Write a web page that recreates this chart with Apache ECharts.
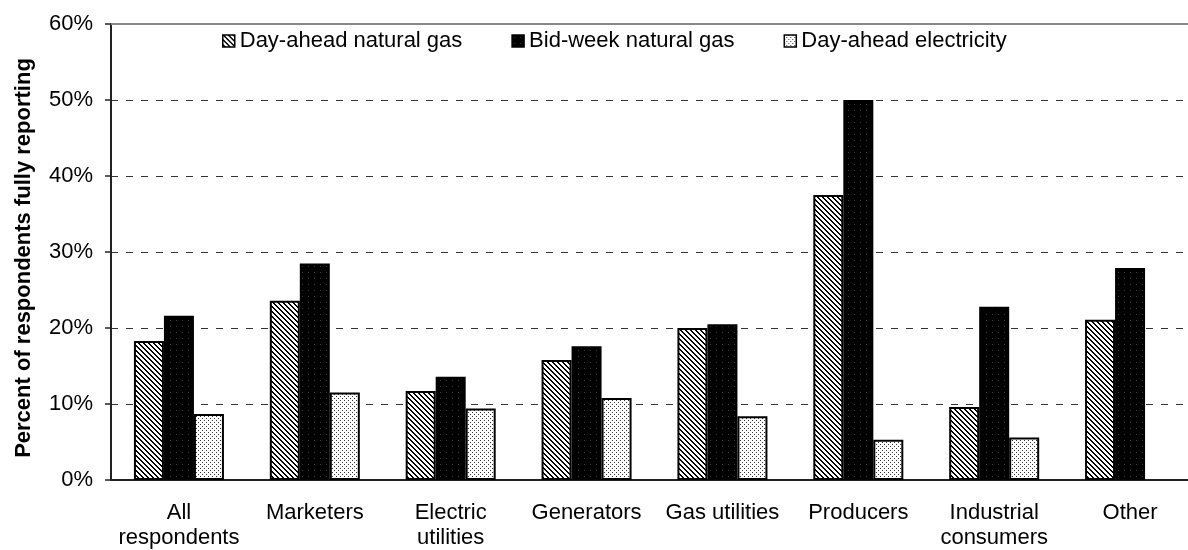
<!DOCTYPE html>
<html>
<head>
<meta charset="utf-8">
<script src="https://cdn.jsdelivr.net/npm/echarts@6/dist/echarts.min.js"></script>
<style>
  html, body { margin: 0; padding: 0; background: #fff; }
  #main { width: 1188px; height: 550px; }
</style>
</head>
<body>
<div id="main"></div>
<script>
/* data */
var categories = ['All\nrespondents', 'Marketers', 'Electric\nutilities', 'Generators', 'Gas utilities', 'Producers', 'Industrial\nconsumers', 'Other'];
var dayAheadGas = [18.3, 23.6, 11.7, 15.8, 20.0, 37.5, 9.6, 21.1];
var bidWeekGas = [21.6, 28.5, 13.6, 17.6, 20.5, 50.0, 22.8, 27.9];
var dayAheadElec = [8.7, 11.5, 9.4, 10.8, 8.4, 5.3, 5.6, null];
var seriesNames = ['Day-ahead natural gas', 'Bid-week natural gas', 'Day-ahead electricity'];

// small pixel tiles used as fills
function makeTile(size, isDark, dark, light) {
    var c = document.createElement('canvas');
    c.width = size; c.height = size;
    var ctx = c.getContext('2d');
    for (var y = 0; y < size; y++) {
        for (var x = 0; x < size; x++) {
            ctx.fillStyle = isDark(x, y) ? dark : light;
            ctx.fillRect(x, y, 1, 1);
        }
    }
    return c;
}
var hatchTile = makeTile(5, function (x, y) { return ((x - y + 10) % 5) < 2; }, '#000', '#fff');
var blackTile = makeTile(6, function (x, y) { return x === 2 && y === 2; }, '#3a3a3a', '#000');
var dotTile = makeTile(4, function (x, y) { return (x === 0 && y === 0) || (x === 2 && y === 2); }, '#333', '#fff');

var font = "'Liberation Sans', Arial, sans-serif";

function barSeries(name, data, tile) {
    return {
        type: 'bar',
        name: name,
        data: data,
        barWidth: 30,
        barGap: '0%',
        itemStyle: {
            color: { image: tile, repeat: 'repeat' },
            borderColor: '#000',
            borderWidth: 2
        }
    };
}

var chart = echarts.init(document.getElementById('main'));
var option = {
    animation: false,
    backgroundColor: '#fff',
    legend: {
        left: 217,
        top: 25,
        itemWidth: 12,
        itemHeight: 12,
        itemGap: 49,
        icon: 'rect',
        itemStyle: { borderColor: '#000', borderWidth: 1.5 },
        textStyle: { fontFamily: font, fontSize: 22, color: '#000' },
        data: seriesNames
    },
    grid: {
        left: 111,
        top: 24,
        width: 1087,
        height: 456,
        outerBoundsMode: 'none'
    },
    xAxis: {
        type: 'category',
        data: categories,
        axisLine: { lineStyle: { color: '#222', width: 2 } },
        axisTick: { length: 6, lineStyle: { color: '#222', width: 1.5 } },
        axisLabel: {
            color: '#000',
            fontFamily: font,
            fontSize: 22,
            lineHeight: 25,
            margin: 20,
            interval: 0
        }
    },
    yAxis: {
        type: 'value',
        min: 0,
        max: 60,
        interval: 10,
        name: 'Percent of respondents fully reporting',
        nameLocation: 'middle',
        nameGap: 76,
        nameTextStyle: {
            fontFamily: font, fontSize: 22, fontWeight: 'bold', color: '#000',
            padding: [0, 12, 0, 0]
        },
        axisLine: { show: true, lineStyle: { color: '#222', width: 2 } },
        axisTick: { show: true, length: 6, lineStyle: { color: '#222', width: 1.5 } },
        axisLabel: {
            color: '#000',
            fontFamily: font,
            fontSize: 22,
            margin: 18,
            formatter: '{value}%'
        },
        splitLine: {
            show: true,
            lineStyle: { color: '#333', width: 1, type: [7, 8] }
        }
    },
    series: [
        barSeries(seriesNames[0], dayAheadGas, hatchTile),
        barSeries(seriesNames[1], bidWeekGas, blackTile),
        barSeries(seriesNames[2], dayAheadElec, dotTile)
    ]
};
chart.setOption(option);

// grey top border of the plot area, placed from the axis scale
var top60 = chart.convertToPixel({ yAxisIndex: 0 }, 60);
chart.setOption({
    graphic: [{
        type: 'line',
        shape: { x1: 111, y1: top60, x2: 1188, y2: top60 },
        style: { stroke: '#888', lineWidth: 2 },
        z: 1
    }]
});
</script>
</body>
</html>
